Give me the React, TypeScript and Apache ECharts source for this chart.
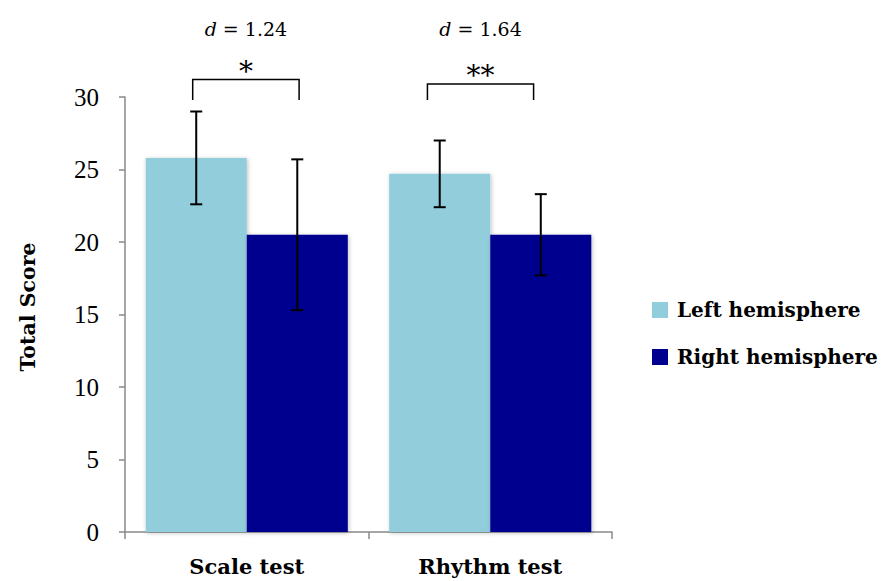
import React, { useEffect, useRef } from "react";
import * as echarts from "echarts";

const categories = ["Scale test", "Rhythm test"];
const seriesNames = ["Left hemisphere", "Right hemisphere"];
const leftMeans = [25.8, 24.7];
const rightMeans = [20.5, 20.5];
const leftErr = [3.2, 2.3];
const rightErr = [5.2, 2.8];
const effectSizes = ["1.24", "1.64"];
const significance = ["*", "**"];
const bracketTop = [31.2, 30.9];
const bracketBottom = [29.8, 29.8];
const effectLabelLevel = [34.7, 34.7];
const yTicks = [0, 5, 10, 15, 20, 25, 30];
const yAxisTitle = "Total Score";

// layout constants (fractions of category band)
const bracketSpan = [
  [-0.222, 0.215],
  [-0.258, 0.178],
];
const CAT_GAP = 0.17;

const FONT = "'DejaVu Serif', 'Liberation Serif', serif";
const NUM_FONT = "'Liberation Serif', 'DejaVu Serif', serif";
const LIGHT = "#92CDDC";
const DARK = "#00008F";
const AXIS = "#8a8a8a";

export default function App() {
  const ref = useRef<HTMLDivElement>(null);
  useEffect(() => {
    if (!ref.current) return;
    const chart = echarts.init(ref.current, null, { renderer: "svg" });

    const errData: any[] = [];
    categories.forEach((_, i) => {
      errData.push([i, leftMeans[i], leftErr[i], 0]);
      errData.push([i, rightMeans[i], rightErr[i], 1]);
    });
    const bracketData = categories.map((_, i) => [
      i,
      bracketTop[i],
      bracketBottom[i],
      effectLabelLevel[i],
    ]);

    chart.setOption({
      animation: false,
      grid: { left: 125, right: 270, top: 97, bottom: 49 },
      graphic: [
        {
          type: "text",
          x: 28,
          y: 307,
          rotation: Math.PI / 2,
          style: {
            text: yAxisTitle,
            fontFamily: FONT,
            fontWeight: "bold",
            fontSize: 20.5,
            fill: "#000",
            align: "center",
            verticalAlign: "middle",
          },
        },
      ],
      legend: {
        orient: "vertical",
        left: 652,
        top: 300,
        padding: 0,
        itemWidth: 16,
        itemHeight: 16,
        itemGap: 27,
        icon: "rect",
        data: seriesNames,
        textStyle: {
          fontFamily: FONT,
          fontWeight: "bold",
          fontSize: 20,
          color: "#000",
          lineHeight: 20,
          padding: [0, 0, 0, 4],
        },
      },
      xAxis: {
        type: "category",
        data: categories,
        axisLine: { lineStyle: { color: AXIS, width: 1.5 } },
        axisTick: { show: true, length: 7, lineStyle: { color: AXIS, width: 1.5 } },
        axisLabel: {
          margin: 24,
          fontFamily: FONT,
          fontWeight: "bold",
          fontSize: 21,
          color: "#000",
        },
      },
      yAxis: {
        type: "value",
        min: 0,
        max: 30,
        interval: 5,
        axisLine: { show: true, lineStyle: { color: AXIS, width: 1.5 } },
        axisTick: { show: true, length: 6, lineStyle: { color: AXIS, width: 1.5 } },
        splitLine: { show: false },
        axisLabel: {
          margin: 26,
          fontFamily: NUM_FONT,
          fontSize: 25,
          color: "#000",
          formatter: (v: number) => (yTicks.includes(v) ? String(v) : ""),
        },
      },
      series: [
        {
          name: seriesNames[0],
          type: "bar",
          data: leftMeans,
          barGap: "0%",
          barCategoryGap: CAT_GAP * 100 + "%",
          itemStyle: {
            color: LIGHT,
            shadowBlur: 4,
            shadowColor: "rgba(0,0,0,0.25)",
            shadowOffsetX: 1,
            shadowOffsetY: 1,
          },
        },
        {
          name: seriesNames[1],
          type: "bar",
          data: rightMeans,
          barGap: "0%",
          barCategoryGap: CAT_GAP * 100 + "%",
          itemStyle: {
            color: DARK,
            shadowBlur: 4,
            shadowColor: "rgba(0,0,0,0.25)",
            shadowOffsetX: 1,
            shadowOffsetY: 1,
          },
        },
        {
          type: "custom",
          data: errData,
          clip: false,
          z: 10,
          renderItem: (params: any, api: any) => {
            const idx = api.value(0);
            const mean = api.value(1);
            const err = api.value(2);
            const side = api.value(3);
            const band = api.size([1, 0])[0];
            const barW = (band * (1 - CAT_GAP)) / 2;
            const c = api.coord([idx, mean]);
            const x = c[0] + (side === 0 ? -barW / 2 : barW / 2);
            const yt = api.coord([idx, mean + err])[1];
            const yb = api.coord([idx, mean - err])[1];
            const cap = 6;
            const st = { stroke: "#000", lineWidth: 2 };
            return {
              type: "group",
              children: [
                { type: "line", shape: { x1: x, y1: yt, x2: x, y2: yb }, style: st },
                { type: "line", shape: { x1: x - cap, y1: yt, x2: x + cap, y2: yt }, style: st },
                { type: "line", shape: { x1: x - cap, y1: yb, x2: x + cap, y2: yb }, style: st },
              ],
            };
          },
        },
        {
          type: "custom",
          data: bracketData,
          clip: false,
          z: 10,
          renderItem: (params: any, api: any) => {
            const i = params.dataIndex;
            const idx = api.value(0);
            const top = api.value(1);
            const bot = api.value(2);
            const lvl = api.value(3);
            const band = api.size([1, 0])[0];
            const c = api.coord([idx, top]);
            const x1 = c[0] + bracketSpan[i][0] * band;
            const x2 = c[0] + bracketSpan[i][1] * band;
            const yt = c[1];
            const yb = api.coord([idx, bot])[1];
            const yl = api.coord([idx, lvl])[1];
            const cx = (x1 + x2) / 2;
            return {
              type: "group",
              children: [
                {
                  type: "polyline",
                  shape: { points: [[x1, yb], [x1, yt], [x2, yt], [x2, yb]] },
                  style: { stroke: "#000", lineWidth: 1.5, fill: null },
                },
                {
                  type: "text",
                  x: cx,
                  y: yt + 6,
                  style: {
                    text: significance[i],
                    fontFamily: FONT,
                    fontSize: 28,
                    fill: "#000",
                    align: "center",
                    verticalAlign: "bottom",
                  },
                },
                {
                  type: "text",
                  x: cx,
                  y: yl,
                  style: {
                    text: "{i|d} = " + effectSizes[i],
                    fontFamily: FONT,
                    fontSize: 19,
                    fill: "#000",
                    align: "center",
                    verticalAlign: "middle",
                    rich: {
                      i: { fontStyle: "italic", fontFamily: FONT, fontSize: 19, fill: "#000" },
                    },
                  },
                },
              ],
            };
          },
        },
      ],
    });
    return () => chart.dispose();
  }, []);
  return (
    <div
      ref={ref}
      style={{ position: "absolute", left: 0, top: 0, width: 882, height: 581 }}
    />
  );
}
